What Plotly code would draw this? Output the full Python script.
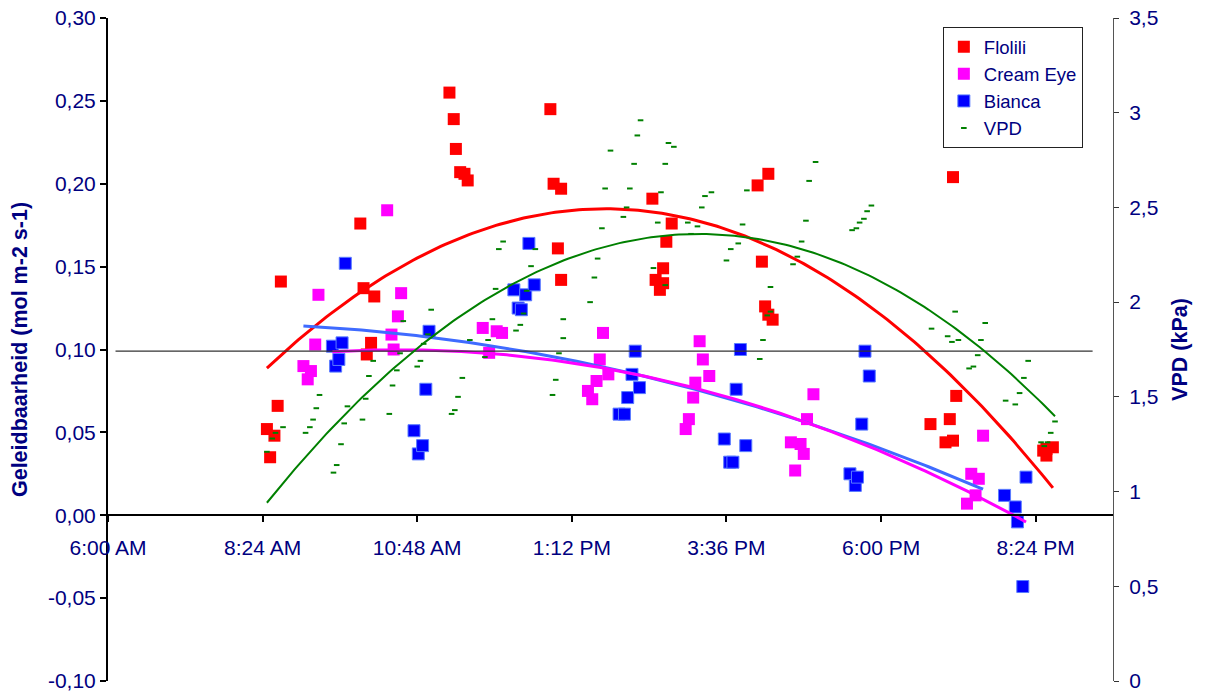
import numpy as np
import pandas as pd
import plotly.graph_objects as go

DAY = "2000-01-01 "

# Stomatal conductance per cultivar (mol m-2 s-1), clock time of each reading
flolili_time = ["08:28", "08:31", "08:35", "08:38", "08:41", "09:55", "09:58", "10:01", "10:05", "10:08",
                "11:18", "11:22", "11:24", "11:28", "11:32", "11:35", "12:52", "12:55", "12:59", "13:02",
                "13:02", "14:27", "14:30", "14:34", "14:37", "14:37", "14:40", "14:45", "16:05", "16:09",
                "16:12", "16:15", "16:15", "16:19", "18:46", "19:00", "19:04", "19:07", "19:07", "19:10",
                "20:31", "20:34", "20:34", "20:40"]
flolili_g = [0.052, 0.035, 0.048, 0.066, 0.141, 0.176, 0.137, 0.097, 0.104, 0.132,
             0.255, 0.239, 0.221, 0.207, 0.206, 0.202, 0.245, 0.200, 0.161, 0.197,
             0.142, 0.191, 0.142, 0.136, 0.149, 0.140, 0.165, 0.176, 0.199, 0.153,
             0.126, 0.206, 0.121, 0.118, 0.055, 0.044, 0.058, 0.204, 0.045, 0.072,
             0.039, 0.040, 0.036, 0.041]

cream_time = ["09:02", "09:06", "09:09", "09:13", "09:16", "10:20", "10:24", "10:26", "10:30", "10:33",
              "11:49", "11:55", "12:02", "12:07", "13:27", "13:31", "13:35", "13:38", "13:41", "13:46",
              "14:58", "15:01", "15:05", "15:07", "15:11", "15:14", "15:20", "16:36", "16:40", "16:45",
              "16:48", "16:51", "16:57", "19:20", "19:24", "19:28", "19:31", "19:35"]
cream_g = [0.090, 0.082, 0.087, 0.103, 0.133, 0.184, 0.109, 0.100, 0.120, 0.134,
           0.113, 0.098, 0.111, 0.110, 0.075, 0.070, 0.081, 0.094, 0.110, 0.085,
           0.052, 0.058, 0.071, 0.080, 0.105, 0.094, 0.084, 0.044, 0.027, 0.043,
           0.037, 0.058, 0.073, 0.007, 0.025, 0.012, 0.022, 0.048]

bianca_time = ["09:29", "09:32", "09:35", "09:38", "09:41", "10:45", "10:49", "10:53", "10:56", "10:59",
               "12:18", "12:22", "12:25", "12:29", "12:32", "12:37", "13:56", "14:01", "14:04", "14:08",
               "14:11", "14:15", "15:34", "15:39", "15:42", "15:45", "15:49", "15:54", "17:31", "17:36",
               "17:38", "17:42", "17:45", "17:49", "19:55", "20:05", "20:07", "20:12", "20:15"]
bianca_g = [0.102, 0.090, 0.094, 0.104, 0.152, 0.051, 0.037, 0.042, 0.076, 0.111,
            0.136, 0.125, 0.124, 0.133, 0.164, 0.139, 0.061, 0.061, 0.071, 0.085,
            0.099, 0.077, 0.046, 0.032, 0.032, 0.076, 0.100, 0.042, 0.025, 0.018,
            0.023, 0.055, 0.099, 0.084, 0.012, 0.005, -0.004, -0.043, 0.023]

# Vapour pressure deficit (kPa)
vpd_time = ["08:28", "08:33", "08:36", "08:43", "09:04", "09:08", "09:11", "09:14", "09:17", "09:30",
            "09:33", "09:37", "09:40", "09:43", "09:57", "10:00", "10:03", "10:07", "10:22", "10:25",
            "10:29", "10:32", "10:35", "10:48", "10:51", "10:54", "10:58", "11:01", "11:20", "11:23",
            "11:26", "11:30", "11:37", "11:51", "11:54", "11:58", "12:01", "12:04", "12:08", "12:20",
            "12:24", "12:27", "12:30", "12:34", "12:38", "12:54", "12:57", "13:00", "13:04", "13:04",
            "13:29", "13:33", "13:36", "13:40", "13:43", "13:48", "14:00", "14:03", "14:06", "14:10",
            "14:13", "14:16", "14:28", "14:32", "14:35", "14:39", "14:39", "14:42", "14:47", "15:00",
            "15:03", "15:09", "15:13", "15:16", "15:22", "15:36", "15:40", "15:47", "15:51", "15:55",
            "16:07", "16:10", "16:14", "16:17", "16:17", "16:38", "16:42", "16:46", "16:50", "16:53",
            "16:59", "17:33", "17:37", "17:40", "17:44", "17:47", "17:51", "18:47", "19:02", "19:06",
            "19:09", "19:12", "19:22", "19:26", "19:30", "19:33", "19:37", "19:56", "20:05", "20:09",
            "20:13", "20:17", "20:29", "20:32", "20:35", "20:38", "20:42"]
vpd_kpa = [1.21, 1.28, 1.31, 1.34, 1.31, 1.34, 1.38, 1.44, 1.51, 1.10,
           1.14, 1.25, 1.36, 1.45, 1.38, 1.49, 1.61, 1.69, 1.41, 1.56,
           1.64, 1.73, 1.90, 1.66, 1.69, 1.78, 1.83, 1.96, 1.41, 1.43,
           1.50, 1.60, 1.80, 1.71, 1.80, 1.91, 2.07, 2.28, 2.32, 1.85,
           1.88, 1.94, 2.06, 2.19, 2.28, 1.51, 1.59, 1.73, 1.81, 1.91,
           2.00, 2.13, 2.23, 2.39, 2.60, 2.80, 2.45, 2.50, 2.60, 2.73,
           2.88, 2.96, 2.18, 2.42, 2.58, 2.73, 2.09, 2.84, 2.82, 2.42,
           2.36, 2.40, 2.50, 2.56, 2.58, 2.22, 2.28, 2.31, 2.41, 2.59,
           1.70, 1.80, 1.93, 1.95, 2.08, 2.20, 2.24, 2.32, 2.43, 2.64,
           2.74, 2.38, 2.39, 2.42, 2.44, 2.48, 2.51, 1.86, 1.82, 1.79,
           1.95, 1.80, 1.65, 1.66, 1.72, 1.80, 1.89, 1.48, 1.46, 1.52,
           1.60, 1.69, 1.26, 1.24, 1.26, 1.31, 1.37]

# Horizontal reference level across the day
ref_time = ["06:07", "21:17"]
ref_g = [0.099, 0.099]

left_ticks = [-0.10, -0.05, 0.00, 0.05, 0.10, 0.15, 0.20, 0.25, 0.30]
left_ticktext = ["-0,10", "-0,05", "0,00", "0,05", "0,10", "0,15", "0,20", "0,25", "0,30"]

FONT = "Arial, 'Liberation Sans', sans-serif"
NAVY = "#000080"


def clock(times):
    return pd.to_datetime([DAY + t for t in times])


def quad_trend(times, values, n=200):
    """Second-order polynomial trend over the span of the readings."""
    ts = clock(times)
    hrs = np.asarray(ts.hour + ts.minute / 60.0, dtype=float)
    coef = np.polyfit(hrs, np.asarray(values, dtype=float), 2)
    grid = np.linspace(hrs.min(), hrs.max(), n)
    return pd.Timestamp(DAY) + pd.to_timedelta(grid, unit="h"), np.polyval(coef, grid)


fig = go.Figure()

square = dict(symbol="square", size=12)
fig.add_trace(go.Scatter(x=clock(flolili_time), y=flolili_g, mode="markers", name="Flolili",
                         marker=dict(color="#FF0000", **square)))
fig.add_trace(go.Scatter(x=clock(cream_time), y=cream_g, mode="markers", name="Cream Eye",
                         marker=dict(color="#FF00FF", **square)))
fig.add_trace(go.Scatter(x=clock(bianca_time), y=bianca_g, mode="markers", name="Bianca",
                         marker=dict(color="#0000FF", line=dict(color="#5A7CFF", width=1), **square)))
fig.add_trace(go.Scatter(x=clock(vpd_time), y=vpd_kpa, mode="markers", name="VPD", yaxis="y2",
                         marker=dict(symbol="line-ew", size=4, color="#008000",
                                     line=dict(color="#008000", width=2))))

# Trend curves
tx, ty = quad_trend(flolili_time, flolili_g)
fig.add_trace(go.Scatter(x=tx, y=ty, mode="lines", line=dict(color="#FF0000", width=3),
                         showlegend=False, hoverinfo="skip"))
tx, ty = quad_trend(cream_time, cream_g)
fig.add_trace(go.Scatter(x=tx, y=ty, mode="lines", line=dict(color="#3F6BFF", width=3),
                         showlegend=False, hoverinfo="skip"))
tx, ty = quad_trend(bianca_time, bianca_g)
fig.add_trace(go.Scatter(x=tx, y=ty, mode="lines", line=dict(color="#FF00FF", width=3),
                         showlegend=False, hoverinfo="skip"))
tx, ty = quad_trend(vpd_time, vpd_kpa)
fig.add_trace(go.Scatter(x=tx, y=ty, mode="lines", yaxis="y2", line=dict(color="#008000", width=2),
                         showlegend=False, hoverinfo="skip"))

fig.add_trace(go.Scatter(x=clock(ref_time), y=ref_g, mode="lines", line=dict(color="#333333", width=1.3),
                         showlegend=False, hoverinfo="skip"))

tick_font = dict(family=FONT, size=21, color=NAVY)
title_font = dict(family=FONT, size=21.5, color=NAVY)

fig.update_layout(
    width=1205, height=695,
    margin=dict(l=108, r=92, t=18, b=14, autoexpand=False),
    paper_bgcolor="white", plot_bgcolor="white",
    separators=",.",
    font=dict(family=FONT, color=NAVY),
    showlegend=True,
    legend=dict(x=0.970, y=0.986, xanchor="right", yanchor="top",
                bgcolor="white", bordercolor="#222222", borderwidth=1,
                font=dict(family=FONT, size=18.5, color=NAVY),
                itemwidth=30, tracegroupgap=0),
    xaxis=dict(
        type="date", automargin=False,
        range=[DAY + "06:00", DAY + "21:36"],
        tick0=DAY + "06:00", dtick=2.4 * 3600 * 1000,
        tickformat="%-I:%M %p",
        anchor="free", position=0.25,
        showgrid=False, zeroline=False,
        showline=True, linecolor="black", linewidth=2,
        ticks="outside", ticklen=6, tickwidth=2, tickcolor="black",
        tickfont=tick_font, ticklabelstandoff=8,
    ),
    yaxis=dict(
        range=[-0.1, 0.3], domain=[0, 1], automargin=False,
        tickvals=left_ticks, ticktext=left_ticktext,
        showgrid=False, zeroline=False,
        showline=True, linecolor="black", linewidth=2,
        ticks="outside", ticklen=6, tickwidth=1.5, tickcolor="black",
        tickfont=tick_font,
        title=dict(text="<b>Geleidbaarheid (mol m-2 s-1)</b>", font=title_font, standoff=14),
    ),
    yaxis2=dict(
        range=[0, 3.5], overlaying="y", side="right", anchor="x", automargin=False,
        dtick=0.5, showgrid=False, zeroline=False,
        showline=True, linecolor="#555555", linewidth=1,
        ticks="outside", ticklen=5, tickwidth=1, tickcolor="#333333",
        tickfont=tick_font, ticklabelstandoff=6,
        title=dict(text="<b>VPD (kPa)</b>", font=title_font, standoff=14),
    ),
    yaxis3=dict(
        range=[0, 3.5], overlaying="y", side="right", anchor="x", automargin=False,
        dtick=0.5, showgrid=False, zeroline=False, showline=False,
        ticks="inside", ticklen=5, tickwidth=1, tickcolor="#333333",
        showticklabels=False,
    ),
)

fig.write_html("out.html")
